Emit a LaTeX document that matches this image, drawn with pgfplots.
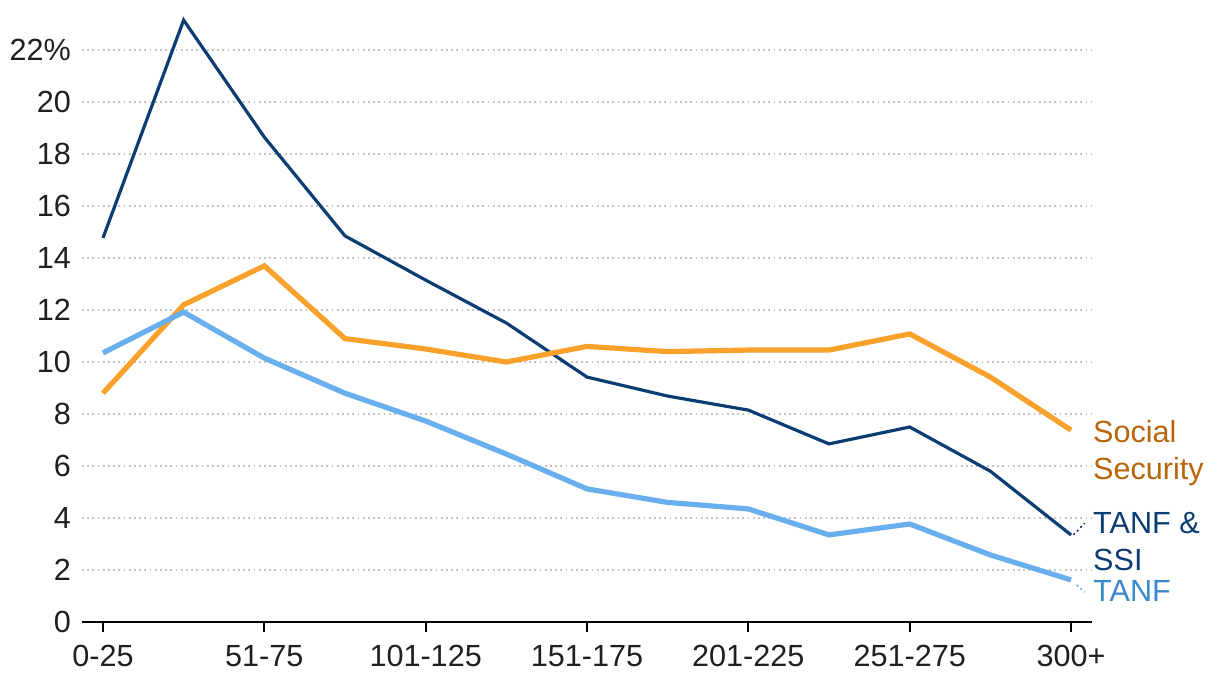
\documentclass[border=0pt]{standalone}
\usepackage{pgfplots}
\pgfplotsset{compat=1.18}
\usepackage{fontspec}
\setmainfont{Liberation Sans}
\definecolor{navy}{HTML}{0B3D73}
\definecolor{orng}{HTML}{F9A12A}
\definecolor{orngtxt}{HTML}{B8650A}
\definecolor{lblue}{HTML}{6AAFED}
\definecolor{lbluetxt}{HTML}{3B88CC}
\definecolor{gridgray}{HTML}{C4C4C4}
\begin{document}
\begin{tikzpicture}
\begin{axis}[
  at={(0,0)}, anchor=south west,
  scale only axis,
  width=505pt, height=305.5pt,
  xmin=-0.26, xmax=12.26,
  ymin=0, ymax=23.5,
  axis x line*=bottom, axis y line*=left,
  separate axis lines,
  x axis line style={black, line width=1.1pt, -},
  y axis line style={draw=none},
  xtick style={black, line width=1.1pt},
  ytick style={draw=none},
  tick align=outside,
  major tick length=5pt,
  clip=false,
  xtick={0,2,4,6,8,10,12},
  xticklabels={0-25,51-75,101-125,151-175,201-225,251-275,300+},
  ytick={0,2,...,22},
  yticklabels={0,2,4,6,8,10,12,14,16,18,20,22\%},
  tick label style={font=\fontsize{15.3}{18}\selectfont, text=black!88},
  xticklabel style={yshift=-3pt},
  yticklabel style={xshift=3pt},
  ymajorgrids,
  major grid style={gridgray, line width=0.9pt, dash pattern=on 0.9pt off 1.7pt},
  /pgf/number format/assume math mode=true,
]
% TANF & SSI
\addplot[navy, line width=1.6pt] coordinates {
(0,14.77) (1,23.15) (2,18.65) (3,14.85) (4,13.15) (5,11.5) (6,9.42)
(7,8.69) (8,8.15) (9,6.85) (10,7.5) (11,5.8) (12,3.35)};
% Social Security
\addplot[orng, line width=2.6pt] coordinates {
(0,8.8) (1,12.2) (2,13.7) (3,10.9) (4,10.5) (5,10.0) (6,10.6)
(7,10.4) (8,10.46) (9,10.46) (10,11.08) (11,9.42) (12,7.38)};
% TANF
\addplot[lblue, line width=2.6pt] coordinates {
(0,10.35) (1,11.92) (2,10.15) (3,8.8) (4,7.73) (5,6.46) (6,5.12)
(7,4.6) (8,4.35) (9,3.35) (10,3.77) (11,2.58) (12,1.62)};
% leader lines
\draw[navy, line width=0.8pt, dash pattern=on 1pt off 1.5pt] (axis cs:12.03,3.35) -- (axis cs:12.17,3.80);
\draw[lblue, line width=0.8pt, dash pattern=on 1pt off 1.5pt] (axis cs:12.07,1.42) -- (axis cs:12.17,1.15);
% labels
\node[anchor=base west, inner sep=0, text=orngtxt, font=\fontsize{15.3}{18}\selectfont] at (axis cs:12.27,6.92) {Social};
\node[anchor=base west, inner sep=0, text=orngtxt, font=\fontsize{15.3}{18}\selectfont] at (axis cs:12.27,5.50) {Security};
\node[anchor=base west, inner sep=0, text=navy, font=\fontsize{15.3}{18}\selectfont] at (axis cs:12.27,3.40) {TANF \&};
\node[anchor=base west, inner sep=0, text=navy, font=\fontsize{15.3}{18}\selectfont] at (axis cs:12.27,2.00) {SSI};
\node[anchor=base west, inner sep=0, text=lbluetxt, font=\fontsize{15.3}{18}\selectfont] at (axis cs:12.27,0.78) {TANF};
\end{axis}
\pgfresetboundingbox
\useasboundingbox (-41pt,-35pt) rectangle (569pt,311pt);
\end{tikzpicture}
\end{document}
